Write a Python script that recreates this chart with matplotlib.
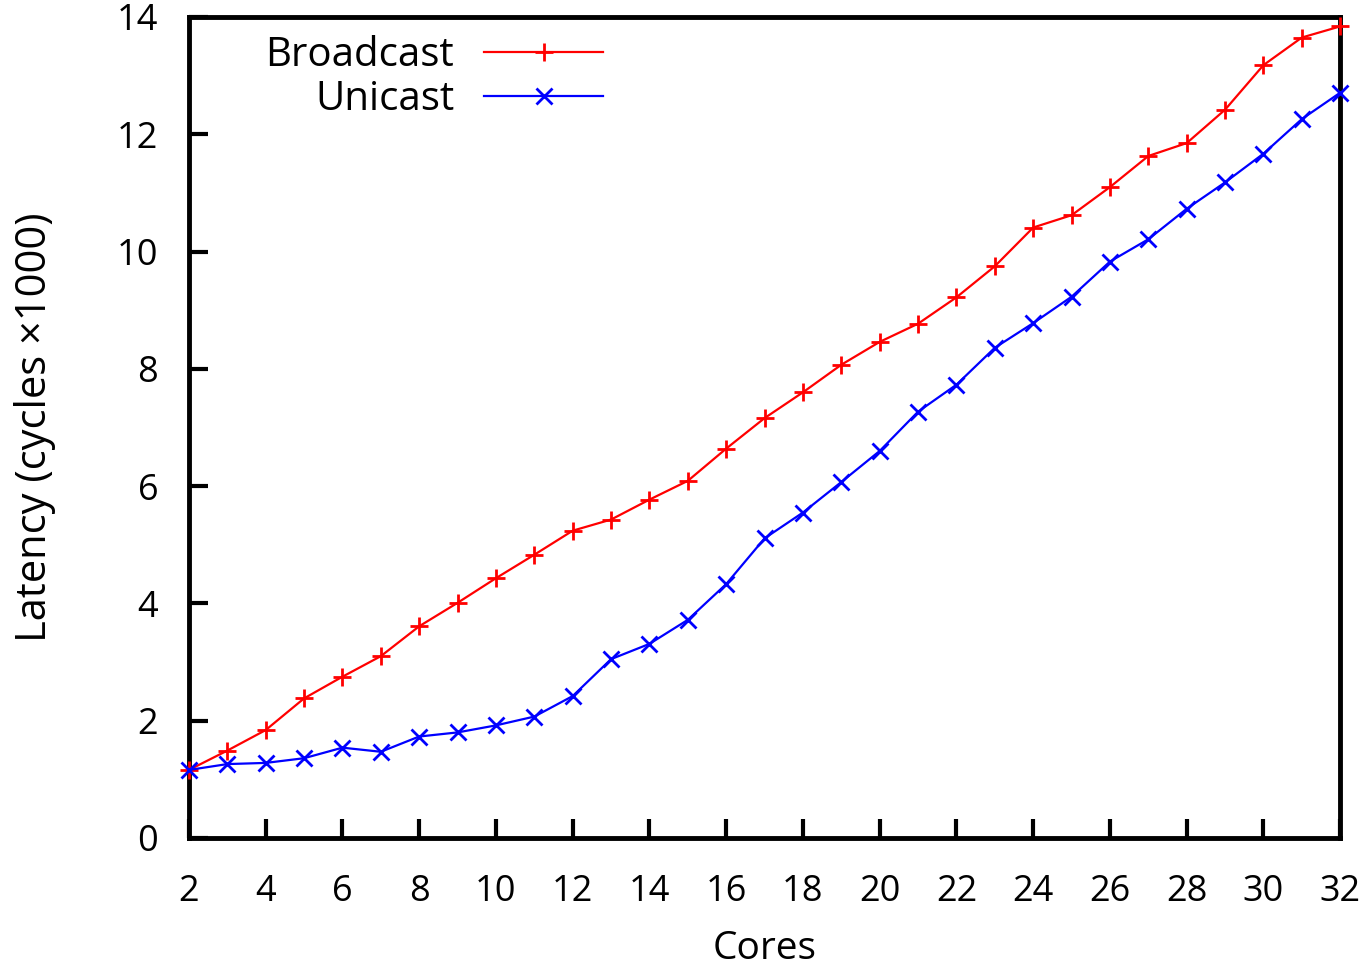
import matplotlib
matplotlib.use("Agg")
import matplotlib.pyplot as plt

# Latency vs number of cores (cycles x 1000)
cores = list(range(2, 33))
broadcast = [1.16, 1.49, 1.84, 2.38, 2.75, 3.10, 3.61, 4.01, 4.43, 4.83,
             5.24, 5.43, 5.77, 6.09, 6.64, 7.16, 7.60, 8.07, 8.46, 8.77,
             9.22, 9.75, 10.41, 10.62, 11.10, 11.63, 11.85, 12.42, 13.18, 13.65, 13.84]
unicast = [1.16, 1.26, 1.28, 1.36, 1.54, 1.47, 1.73, 1.80, 1.92, 2.07,
           2.42, 3.05, 3.31, 3.72, 4.33, 5.11, 5.55, 6.07, 6.60, 7.27,
           7.73, 8.36, 8.78, 9.23, 9.83, 10.21, 10.73, 11.18, 11.67, 12.26, 12.71]
xticks = list(range(2, 33, 2))
yticks = list(range(0, 15, 2))

plt.rcParams['font.family'] = ['Open Sans', 'DejaVu Sans']

fig = plt.figure(figsize=(13.69, 9.71), dpi=100)
ax = fig.add_axes([0.138, 0.137, 0.841, 0.8455])

ax.plot(cores, broadcast, color='red', lw=1.6, marker='+', ms=13, mew=2,
        label='Broadcast', clip_on=False, zorder=3)
ax.plot(cores, unicast, color='blue', lw=1.6, marker='x', ms=11, mew=2,
        label='Unicast', clip_on=False, zorder=3)

ax.set_xlim(2, 32)
ax.set_ylim(0, 14)
ax.set_xticks(xticks)
ax.set_yticks(yticks)
ax.tick_params(direction='in', length=14, width=3, labelsize=26,
               top=False, right=False)
ax.tick_params(axis='x', pad=26)
ax.tick_params(axis='y', pad=22)
for s in ax.spines.values():
    s.set_linewidth(3.5)

ax.set_xlabel('Cores', fontsize=28, labelpad=14)
ax.set_ylabel('Latency (cycles ×1000)', fontsize=30, labelpad=44)

leg = ax.legend(loc='upper left', frameon=False, fontsize=29, markerfirst=False,
                handlelength=2.95, handletextpad=0.75, labelspacing=0.1,
                bbox_to_anchor=(0.035, 1.022))
for t in leg.get_texts():
    t.set_ha('right')

fig.savefig('out.png', dpi=100)
